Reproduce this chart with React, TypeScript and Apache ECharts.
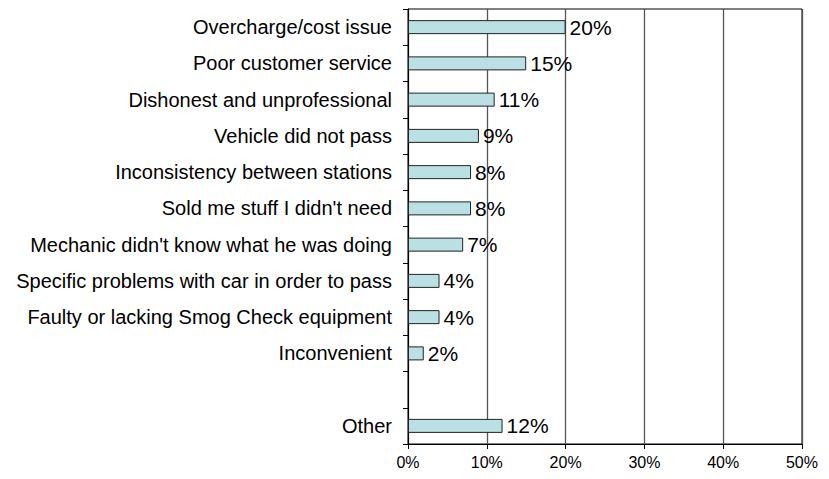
import React, { useEffect, useRef } from "react";
import * as echarts from "echarts";

const categories = [
  "Overcharge/cost issue",
  "Poor customer service",
  "Dishonest and unprofessional",
  "Vehicle did not pass",
  "Inconsistency between stations",
  "Sold me stuff I didn't need",
  "Mechanic didn't know what he was doing",
  "Specific problems with car in order to pass",
  "Faulty or lacking Smog Check equipment",
  "Inconvenient",
  "",
  "Other",
];
const values: (number | null)[] = [20, 15, 11, 9, 8, 8, 7, 4, 4, 2, null, 12];
const xTicks = [0, 10, 20, 30, 40, 50];

export default function App() {
  const ref = useRef<HTMLDivElement>(null);
  useEffect(() => {
    if (!ref.current) return;
    const chart = echarts.init(ref.current, null, { renderer: "svg" });
    chart.setOption({
      animation: false,
      grid: {
        left: 400,
        top: 1,
        width: 402,
        height: 435,
        show: true,
        borderColor: "#000",
        borderWidth: 1,
        backgroundColor: "transparent",
      },
      xAxis: {
        type: "value",
        min: xTicks[0],
        max: xTicks[xTicks.length - 1],
        interval: 10,
        axisLine: { show: true, lineStyle: { color: "#000" } },
        axisTick: { show: true, length: 5, inside: false, lineStyle: { color: "#000" } },
        axisLabel: {
          formatter: "{value}%",
          color: "#000",
          fontFamily: "Liberation Sans, Arial",
          fontSize: 16,
          margin: 10,
        },
        splitLine: { show: true, lineStyle: { color: "#555", width: 1.3 } },
      },
      yAxis: {
        type: "category",
        data: categories,
        inverse: true,
        axisLine: { show: true, lineStyle: { color: "#000" } },
        axisTick: { show: true, length: 5, lineStyle: { color: "#000" } },
        axisLabel: {
          color: "#000",
          fontFamily: "Liberation Sans, Arial",
          fontSize: 20,
          margin: 16,
        },
        splitLine: { show: false },
      },
      series: [
        {
          type: "bar",
          data: values,
          barWidth: 14,
          itemStyle: {
            color: "#bae0e3",
            borderColor: "#222",
            borderWidth: 1,
          },
          label: {
            show: true,
            position: "right",
            formatter: (p: any) => (p.value == null ? "" : p.value + "%"),
            color: "#000",
            fontFamily: "Liberation Sans, Arial",
            fontSize: 21,
            distance: 4,
          },
        },
      ],
    });
    return () => chart.dispose();
  }, []);
  return <div ref={ref} style={{ width: 813, height: 463 }} />;
}
